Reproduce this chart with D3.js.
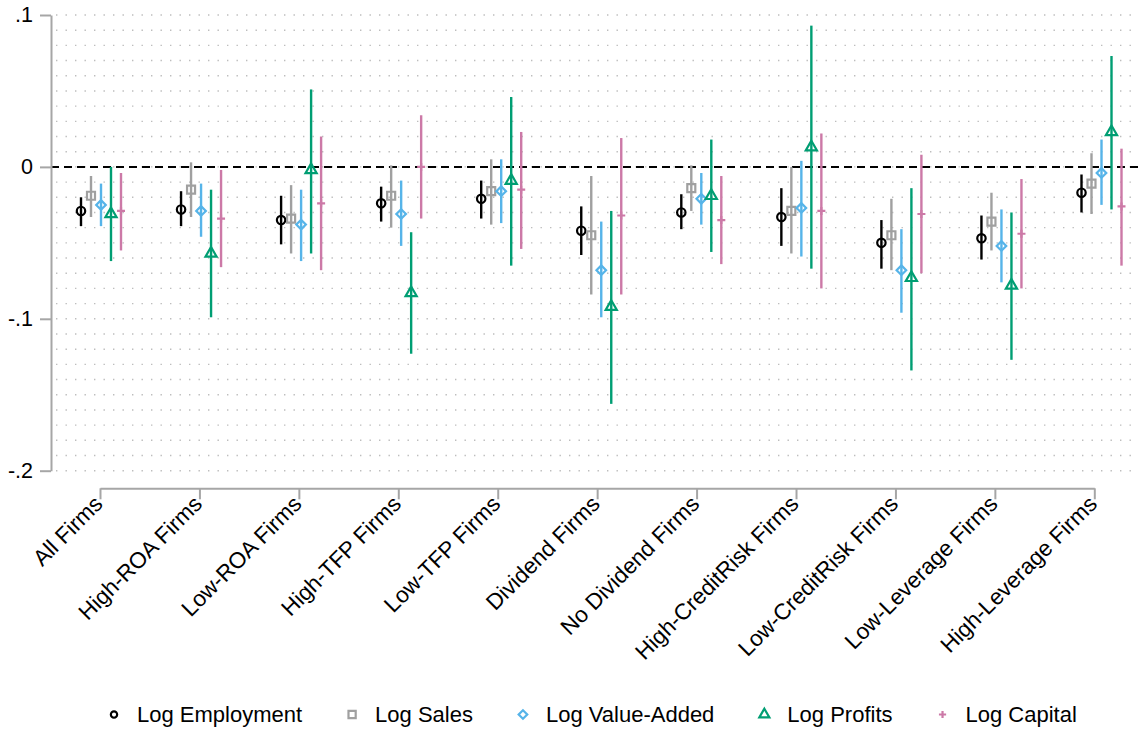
<!DOCTYPE html>
<html>
<head>
<meta charset="utf-8">
<script src="https://cdn.jsdelivr.net/npm/d3@7"></script>
<style>
  html, body { margin: 0; padding: 0; background: #fff; }
  svg { display: block; font-family: Arial, "Liberation Sans", Helvetica, sans-serif; }
</style>
</head>
<body>
<svg id="chart" width="1139" height="730"></svg>
<script>
// Firm groups along the x axis
const categories = [
  "All Firms", "High-ROA Firms", "Low-ROA Firms", "High-TFP Firms", "Low-TFP Firms",
  "Dividend Firms", "No Dividend Firms", "High-CreditRisk Firms", "Low-CreditRisk Firms",
  "Low-Leverage Firms", "High-Leverage Firms"
];

// Point estimates and confidence bounds, one set per outcome
const empCoef = [-0.029, -0.028, -0.035, -0.024, -0.021, -0.042, -0.030, -0.033, -0.050, -0.047, -0.017];
const empLo   = [-0.039, -0.039, -0.051, -0.036, -0.034, -0.058, -0.041, -0.052, -0.067, -0.061, -0.030];
const empHi   = [-0.020, -0.016, -0.019, -0.013, -0.009, -0.026, -0.018, -0.014, -0.035, -0.032, -0.005];

const salesCoef = [-0.019, -0.015, -0.034, -0.019, -0.016, -0.045, -0.014, -0.029, -0.045, -0.036, -0.011];
const salesLo   = [-0.033, -0.033, -0.057, -0.040, -0.038, -0.084, -0.029, -0.057, -0.068, -0.055, -0.031];
const salesHi   = [-0.006,  0.003, -0.012,  0.001,  0.005, -0.006,  0.001,  0.000, -0.021, -0.017,  0.009];

const vaCoef = [-0.025, -0.029, -0.038, -0.031, -0.016, -0.068, -0.021, -0.027, -0.068, -0.052, -0.004];
const vaLo   = [-0.039, -0.046, -0.062, -0.052, -0.037, -0.099, -0.038, -0.059, -0.096, -0.076, -0.025];
const vaHi   = [-0.011, -0.011, -0.015, -0.009,  0.005, -0.036, -0.004,  0.004, -0.041, -0.028,  0.018];

const profitsCoef = [-0.031, -0.057, -0.002, -0.083, -0.009, -0.092, -0.019,  0.013, -0.073, -0.078,  0.023];
const profitsLo   = [-0.062, -0.099, -0.057, -0.123, -0.065, -0.156, -0.056, -0.067, -0.134, -0.127, -0.028];
const profitsHi   = [ 0.000, -0.015,  0.051, -0.043,  0.046, -0.029,  0.018,  0.093, -0.014, -0.030,  0.073];

const capitalCoef = [-0.029, -0.034, -0.024,  0.000, -0.015, -0.032, -0.035, -0.029, -0.031, -0.044, -0.026];
const capitalLo   = [-0.055, -0.066, -0.068, -0.034, -0.054, -0.084, -0.064, -0.080, -0.070, -0.080, -0.065];
const capitalHi   = [-0.004, -0.002,  0.020,  0.034,  0.023,  0.019, -0.006,  0.022,  0.008, -0.008,  0.012];

const seriesNames = ["Log Employment", "Log Sales", "Log Value-Added", "Log Profits", "Log Capital"];
const yTicks = [-0.2, -0.1, 0, 0.1];

// Series table assembled from the arrays above
const series = [
  { name: seriesNames[0], coef: empCoef,     lo: empLo,     hi: empHi,     color: "#000000", shape: "circle" },
  { name: seriesNames[1], coef: salesCoef,   lo: salesLo,   hi: salesHi,   color: "#a0a0a0", shape: "square" },
  { name: seriesNames[2], coef: vaCoef,      lo: vaLo,      hi: vaHi,      color: "#56B4E9", shape: "diamond" },
  { name: seriesNames[3], coef: profitsCoef, lo: profitsLo, hi: profitsHi, color: "#009E73", shape: "triangle" },
  { name: seriesNames[4], coef: capitalCoef, lo: capitalLo, hi: capitalHi, color: "#CC79A7", shape: "plus" }
];

const W = 1139, H = 730;
const svg = d3.select("#chart");
const axisGray = "#a6a6a6";

const y = d3.scaleLinear().domain([-0.2, 0.1]).range([470.7, 15]);
// tick positions of the categorical axis
const xAxisScale = d3.scalePoint().domain(categories).range([100, 1094.3]);
// group centres of the plotted estimates
const xMark = d3.scalePoint().domain(categories).range([101, 1101.5]);
// within-group offsets of the five outcomes
const xOffset = d3.scalePoint().domain(seriesNames).range([-20, 20]);

// dotted horizontal grid every 0.01
const gridVals = d3.range(-20, 11).map(d => d / 100);
svg.append("g").selectAll("line").data(gridVals).join("line")
  .attr("x1", 56).attr("x2", W)
  .attr("y1", d => y(d)).attr("y2", d => y(d))
  .attr("stroke", "#bdbdbd").attr("stroke-width", 1.4)
  .attr("stroke-dasharray", "1.4 8.1");

// zero reference line
svg.append("line")
  .attr("x1", 51).attr("x2", W)
  .attr("y1", y(0)).attr("y2", y(0))
  .attr("stroke", "#000").attr("stroke-width", 2)
  .attr("stroke-dasharray", "8 5");

// y axis
const fmt = d => d === 0 ? "0" : (d < 0 ? "-" : "") + "." + Math.round(Math.abs(d) * 10);
const yAxis = svg.append("g").attr("transform", "translate(51,0)")
  .call(d3.axisLeft(y).tickValues(yTicks).tickFormat(fmt).tickSize(11).tickSizeOuter(0).tickPadding(7));
yAxis.select(".domain").attr("stroke", axisGray).attr("stroke-width", 2);
yAxis.selectAll(".tick line").attr("stroke", axisGray).attr("stroke-width", 2);
yAxis.selectAll(".tick text").attr("font-size", 21.5).attr("fill", "#000")
  .attr("font-family", "Arial, 'Liberation Sans', sans-serif");

// x axis
const xAxisY = 488.3;
const xAxis = svg.append("g").attr("transform", `translate(0,${xAxisY})`)
  .call(d3.axisBottom(xAxisScale).tickSize(11).tickSizeOuter(0).tickFormat(""));
xAxis.select(".domain").attr("stroke", axisGray).attr("stroke-width", 2);
xAxis.selectAll(".tick line").attr("stroke", axisGray).attr("stroke-width", 2);

svg.append("g").selectAll("text").data(categories).join("text")
  .attr("transform", d => `translate(${xAxisScale(d) - 1.5},${xAxisY + 11.5}) rotate(-45)`)
  .attr("text-anchor", "end")
  .attr("dy", "0.35em")
  .attr("font-size", 22.5)
  .attr("fill", "#000")
  .text(d => d);

// marker drawing helper
function drawMarker(g, shape, color, scale) {
  const s = scale || 1;
  if (shape === "circle") {
    g.append("circle").attr("r", 4.2 * s)
      .attr("fill", "none").attr("stroke", color).attr("stroke-width", 2.2);
  } else if (shape === "square") {
    g.append("path").attr("d", d3.symbol().type(d3.symbolSquare).size(64 * s * s)())
      .attr("fill", "none").attr("stroke", color).attr("stroke-width", 2.2);
  } else if (shape === "diamond") {
    g.append("path").attr("d", d3.symbol().type(d3.symbolSquare).size(46 * s * s)())
      .attr("transform", "rotate(45)")
      .attr("fill", "none").attr("stroke", color).attr("stroke-width", 2.2);
  } else if (shape === "triangle") {
    g.append("path").attr("d", d3.symbol().type(d3.symbolTriangle).size(54 * s * s)())
      .attr("fill", "none").attr("stroke", color).attr("stroke-width", 2.2);
  } else if (shape === "plus") {
    const h = 4 * s;
    g.append("path").attr("d", `M${-h},0H${h}M0,${-h}V${h}`)
      .attr("fill", "none").attr("stroke", color).attr("stroke-width", 2.2);
  }
}

// confidence intervals and estimates
series.forEach(sr => {
  const g = svg.append("g");
  const rows = categories.map((c, i) => ({ c, coef: sr.coef[i], lo: sr.lo[i], hi: sr.hi[i] }));
  const xs = d => xMark(d.c) + xOffset(sr.name);
  g.selectAll("line").data(rows).join("line")
    .attr("x1", xs).attr("x2", xs)
    .attr("y1", d => y(d.lo)).attr("y2", d => y(d.hi))
    .attr("stroke", sr.color).attr("stroke-width", 2.4);
  g.selectAll("g.m").data(rows).join("g").attr("class", "m")
    .attr("transform", d => `translate(${xs(d)},${y(d.coef)})`)
    .each(function () { drawMarker(d3.select(this), sr.shape, sr.color, 1); });
});

// legend
const legendY = 714.5;
let lx = 114;
series.forEach(sr => {
  const g = svg.append("g").attr("transform", `translate(${lx},${legendY})`);
  drawMarker(g, sr.shape, sr.color, sr.shape === "circle" ? 0.75 : 0.9);
  const t = g.append("text").attr("x", 23).attr("y", 7.8)
    .attr("font-size", 22).attr("fill", "#000").text(sr.name);
  lx += 23 + t.node().getComputedTextLength() + 50;
});
</script>
</body>
</html>
